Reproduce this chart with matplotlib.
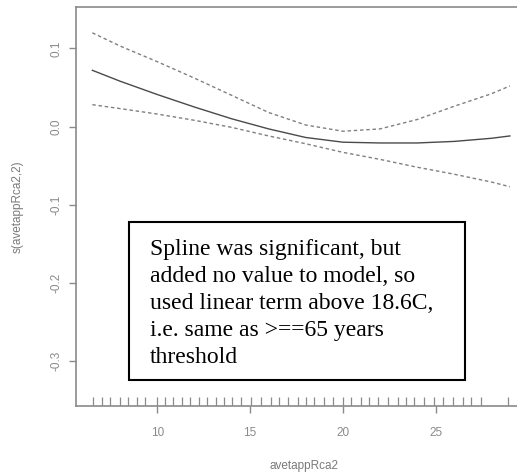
import numpy as np
import matplotlib.pyplot as plt
from matplotlib.patches import Rectangle

# smooth term estimate and confidence band
x_pts = [6.5, 8, 10, 12, 14, 16, 18, 20, 22, 24, 26, 28, 29.0]
fit = [0.072, 0.058, 0.041, 0.025, 0.010, -0.003, -0.014, -0.020, -0.021, -0.021, -0.019, -0.015, -0.012]
upper = [0.120, 0.103, 0.083, 0.062, 0.040, 0.018, 0.002, -0.006, -0.003, 0.009, 0.026, 0.042, 0.052]
lower = [0.028, 0.023, 0.016, 0.008, -0.001, -0.012, -0.022, -0.033, -0.042, -0.052, -0.061, -0.071, -0.077]

# rug of observed values
rug = [6.54, 7.03, 7.46, 8.0, 8.43, 8.92, 9.35, 10.0, 10.43, 10.86, 11.35, 11.78,
       12.22, 12.7, 13.14, 13.57, 14.05, 14.49, 15.03, 15.57, 16.11, 16.54, 17.03,
       17.57, 18.0, 18.43, 18.97, 19.46, 20.0, 20.43, 20.97, 21.41, 21.89, 22.43,
       22.97, 23.41, 23.84, 24.38, 24.92, 25.41, 25.95, 26.49, 26.92, 27.46, 28.9]

xticks = [10, 15, 20, 25]
yticks = [0.1, 0.0, -0.1, -0.2, -0.3]

note = ("Spline was significant, but\n"
        "added no value to model, so\n"
        "used linear term above 18.6C,\n"
        "i.e. same as >==65 years\n"
        "threshold")

W, H = 517, 476
fig = plt.figure(figsize=(W / 100, H / 100), dpi=100)
ax = fig.add_axes([76 / W, 1 - 406 / H, 1 - 76 / W, (406 - 7) / H])

ymin, ymax = -0.3576, 0.153
ax.set_xlim(5.62, 29.38)
ax.set_ylim(ymin, ymax)

ax.plot(x_pts, fit, color='#4a4a4a', lw=1.0)
ax.plot(x_pts, upper, color='#808080', lw=1.0, ls=(0, (2.5, 2)))
ax.plot(x_pts, lower, color='#808080', lw=1.0, ls=(0, (2.5, 2)))

ax.vlines(rug, ymin, ymin + 9 / 785, color='#8a8a8a', lw=0.9)

for s in ['left', 'top', 'bottom']:
    ax.spines[s].set_color('#8a8a8a')
    ax.spines[s].set_linewidth(1.2)
ax.spines['right'].set_visible(False)

lab = dict(family='Liberation Sans', fontsize=8.5, color='#7a7a7a')
ax.set_xticks(xticks)
ax.set_xticklabels([str(v) for v in xticks], **lab)
ax.set_yticks(yticks)
ax.set_yticklabels(['%.1f' % v for v in yticks], rotation=90, va='center', **lab)
ax.tick_params(axis='both', colors='#8a8a8a', length=5, width=1)
ax.tick_params(axis='y', pad=5)
ax.tick_params(axis='x', pad=10)

ax.set_xlabel('avetappRca2', **lab)
ax.xaxis.set_label_coords((304 - 76) / (W - 76), -54 / 399)
ax.set_ylabel('s(avetappRca2,2)', **lab)
ax.yaxis.set_label_coords(-52 / (W - 76), 0.5)

# annotation box
fig.patches.append(Rectangle((129 / W, 1 - 380 / H), (465 - 129) / W, (380 - 222) / H,
                             transform=fig.transFigure, fill=True, facecolor='white',
                             edgecolor='black', lw=1.5))
fig.text(150 / W, 1 - 239 / H, note, fontsize=17, family='Liberation Serif',
         va='top', ha='left', linespacing=1.37)

fig.savefig('out.png', dpi=100)
